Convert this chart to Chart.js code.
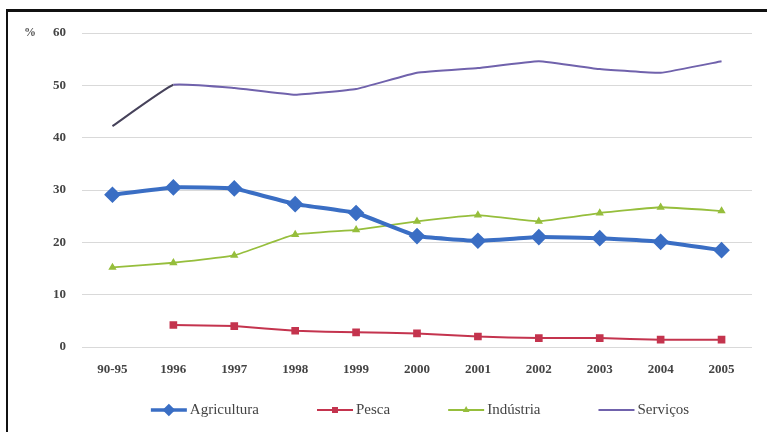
<!DOCTYPE html>
<html>
<head>
<meta charset="utf-8">
<script src="https://cdn.jsdelivr.net/npm/chart.js@4/dist/chart.umd.min.js"></script>
<style>
  html, body { margin: 0; padding: 0; background: #fff; }
  #wrap { position: relative; width: 767px; height: 432px; }
  #frame { position: absolute; left: 6px; top: 9px; right: 0; bottom: 0;
           border-left: 2px solid #111; border-top: 3px solid #111; }
  canvas { position: absolute; left: 0; top: 0; }
</style>
</head>
<body>
<div id="wrap">
  <div id="frame"></div>
  <canvas id="grafico" width="767" height="432"></canvas>
</div>
<script>
const ctx = document.getElementById('grafico');

const anos = ['90-95', '1996', '1997', '1998', '1999', '2000', '2001', '2002', '2003', '2004', '2005'];
const agricultura = [29.1, 30.5, 30.3, 27.3, 25.6, 21.2, 20.3, 21.0, 20.8, 20.1, 18.5];
const pesca = [null, 4.2, 4.0, 3.1, 2.8, 2.6, 2.0, 1.7, 1.7, 1.4, 1.4];
const industria = [15.2, 16.1, 17.5, 21.5, 22.4, 24.0, 25.2, 24.0, 25.6, 26.7, 26.0];
const servicos = [42.2, 50.1, 49.5, 48.2, 49.3, 52.4, 53.3, 54.6, 53.1, 52.4, 54.6];
const yTicks = [0, 10, 20, 30, 40, 50, 60];

const fonte = 'Liberation Serif';

// "%" unit written to the left of the top tick
const unidade = {
  id: 'unidade',
  afterDraw(chart) {
    const y = chart.scales.y;
    const c = chart.ctx;
    c.save();
    c.font = 'bold 12px "' + fonte + '"';
    c.fillStyle = '#555';
    c.textAlign = 'center';
    c.textBaseline = 'middle';
    c.fillText('%', 30, y.getPixelForValue(60));
    c.restore();
  }
};

// legend row under the axis: short line with the series marker, then the name
const legenda = {
  id: 'legenda',
  afterDraw(chart) {
    const c = chart.ctx;
    const area = chart.chartArea;
    const sets = chart.data.datasets;
    const linha = 36, folga = 3, espaco = 58, yLeg = 410;
    c.save();
    c.font = '15px "' + fonte + '"';
    const larguras = sets.map(d => linha + folga + c.measureText(d.label).width);
    const total = larguras.reduce((a, b) => a + b, 0) + espaco * (sets.length - 1);
    let x = (area.left + area.right) / 2 + 3 - total / 2;
    sets.forEach((d, i) => {
      c.strokeStyle = d.borderColor;
      c.lineWidth = Math.min(d.borderWidth, 3.5);
      c.beginPath();
      c.moveTo(x, yLeg);
      c.lineTo(x + linha, yLeg);
      c.stroke();
      if (d.pointRadius > 0) {
        c.fillStyle = d.pointBackgroundColor;
        Chart.helpers.drawPoint(c, {
          pointStyle: d.pointStyle, radius: d.pointRadius * 0.7,
          borderWidth: 1, rotation: 0
        }, x + linha / 2, yLeg);
      }
      c.fillStyle = '#444';
      c.textAlign = 'left';
      c.textBaseline = 'middle';
      c.fillText(d.label, x + linha + folga, yLeg);
      x += larguras[i] + espaco;
    });
    c.restore();
  }
};

new Chart(ctx, {
  type: 'line',
  data: {
    labels: anos,
    datasets: [
      {
        label: 'Agricultura',
        data: agricultura,
        borderColor: 'rgb(58, 110, 196)',
        backgroundColor: 'rgb(58, 110, 196)',
        borderWidth: 4,
        pointStyle: 'rectRot',
        pointRadius: 5.5,
        pointBackgroundColor: 'rgb(58, 110, 196)',
        tension: 0.1
      },
      {
        label: 'Pesca',
        data: pesca,
        borderColor: 'rgb(196, 52, 78)',
        backgroundColor: 'rgb(196, 52, 78)',
        borderWidth: 2,
        pointStyle: 'rect',
        pointRadius: 4,
        pointBackgroundColor: 'rgb(196, 52, 78)',
        tension: 0.1
      },
      {
        label: 'Indústria',
        data: industria,
        borderColor: 'rgb(150, 190, 60)',
        backgroundColor: 'rgb(150, 190, 60)',
        borderWidth: 1.8,
        pointStyle: 'triangle',
        pointRadius: 3,
        pointBackgroundColor: 'rgb(150, 190, 60)',
        tension: 0.1
      },
      {
        label: 'Serviços',
        data: servicos,
        borderColor: 'rgb(112, 98, 172)',
        backgroundColor: 'rgb(112, 98, 172)',
        borderWidth: 2,
        pointRadius: 0,
        tension: 0.1,
        segment: {
          // the first span (90-95 to 1996) is drawn darker
          borderColor: s => s.p0DataIndex === 0 ? 'rgb(70, 66, 90)' : undefined
        }
      }
    ]
  },
  options: {
    responsive: false,
    animation: false,
    layout: { padding: { left: 30, right: 15, top: 33, bottom: 39 } },
    plugins: {
      tooltip: { enabled: false },
      legend: { display: false }
    },
    scales: {
      x: {
        offset: true,
        afterFit(scale) { scale.height = 46; },
        grid: { display: false, drawTicks: false },
        border: { display: false },
        ticks: {
          color: '#444',
          padding: 15,
          font: { family: fonte, size: 13, weight: 'bold' }
        }
      },
      y: {
        min: 0,
        max: 60,
        afterFit(scale) { scale.width = 52; },
        afterBuildTicks(scale) { scale.ticks = yTicks.map(v => ({ value: v })); },
        grid: { color: '#d9d9d9', drawTicks: false },
        border: { display: false },
        ticks: {
          color: '#444',
          padding: 16,
          font: { family: fonte, size: 13, weight: 'bold' }
        }
      }
    }
  },
  plugins: [unidade, legenda]
});
</script>
</body>
</html>
